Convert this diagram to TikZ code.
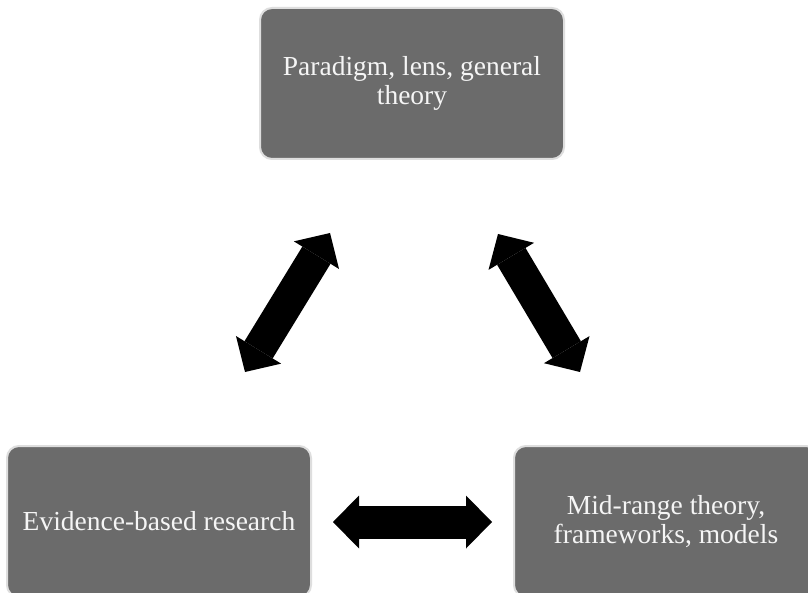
\documentclass[tikz,border=0pt]{standalone}
\usepackage{fontspec}
\setmainfont{Liberation Serif}
\usetikzlibrary{arrows.meta}
\definecolor{boxfill}{RGB}{107,107,107}
\definecolor{boxedge}{RGB}{222,222,222}
\definecolor{boxtext}{RGB}{245,245,245}
\tikzset{
  stage/.style={rectangle, rounded corners=12pt, fill=boxfill, draw=boxedge,
    line width=2pt, minimum width=304pt, minimum height=151pt,
    text=boxtext, align=center, inner sep=0pt,
    font=\fontsize{27.5}{29}\selectfont},
  linkarrow/.style={line width=33pt, draw=black,
    {Triangle[length=26pt 0 0, width=53pt 0 0, line width=0pt 0 0]}-{Triangle[length=26pt 0 0, width=53pt 0 0, line width=0pt 0 0]}}
}
\begin{document}
\begin{tikzpicture}[x=1pt,y=-1pt]
  \useasboundingbox (0,0) rectangle (808,593);
  \clip (0,0) rectangle (808,593);
  \fill[white] (0,0) rectangle (808,593);

  % the three stages
  \node[stage] (theory) at (412,83.5) {Paradigm, lens, general\\theory};
  \node[stage] (evidence) at (159,521.5) {Evidence-based research};
  \node[stage] (models) at (666,521.5) {Mid-range theory,\\frameworks, models};

  % ends of the two-way links
  \coordinate (tl) at (330,233);
  \coordinate (el) at (245,372);
  \coordinate (tr) at (498,234);
  \coordinate (mr) at (580,372);
  \coordinate (eb) at (333,522);
  \coordinate (mb) at (492,522);

  \draw[linkarrow] (tl) -- (el);
  \draw[linkarrow] (tr) -- (mr);
  \draw[linkarrow] (eb) -- (mb);
\end{tikzpicture}
\end{document}
